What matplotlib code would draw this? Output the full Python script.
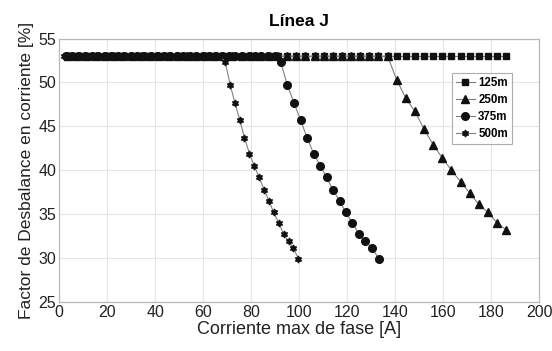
import matplotlib
matplotlib.use("Agg")
import matplotlib.pyplot as plt
from matplotlib import font_manager

names = {f.name for f in font_manager.fontManager.ttflist}
base_font = "Liberation Sans Narrow" if "Liberation Sans Narrow" in names else "Liberation Sans"
plt.rcParams["font.family"] = [base_font, "DejaVu Sans"]

# Current [A] and unbalance factor [%] for each line length
i_125 = [3.8, 7.6, 11.4, 15.2, 19.0, 22.8, 26.6, 30.4, 34.2, 38.0, 41.8, 45.6, 49.4,
         53.2, 57.0, 60.8, 64.6, 68.4, 72.2, 76.0, 79.8, 83.6, 87.4, 91.2, 95.0, 98.8,
         102.6, 106.4, 110.2, 114.0, 117.8, 121.6, 125.4, 129.2, 133.0, 136.8, 140.6,
         144.4, 148.2, 152.0, 155.8, 159.6, 163.4, 167.2, 171.0, 174.8, 178.6, 182.4, 186.2]
f_125 = [53.0] * 49

i_250 = [3.8, 7.6, 11.4, 15.2, 19.0, 22.8, 26.6, 30.4, 34.2, 38.0, 41.8, 45.6, 49.4,
         53.2, 57.0, 60.8, 64.6, 68.4, 72.2, 76.0, 79.8, 83.6, 87.4, 91.2, 95.0, 98.8,
         102.6, 106.4, 110.2, 114.0, 117.8, 121.6, 125.4, 129.2, 133.0, 136.8, 140.6,
         144.4, 148.2, 152.0, 155.8, 159.6, 163.4, 167.2, 171.0, 174.8, 178.6, 182.4, 186.2]
f_250 = [53.0] * 36 + [50.3, 48.2, 46.7, 44.7, 42.9, 41.4, 40.0, 38.7, 37.4, 36.1,
                       35.2, 34.0, 33.2]

i_375 = [2.7, 5.4, 8.2, 10.9, 13.6, 16.3, 19.0, 21.8, 24.5, 27.2, 29.9, 32.6, 35.4,
         38.1, 40.8, 43.5, 46.2, 49.0, 51.7, 54.4, 57.1, 59.8, 62.6, 65.3, 68.0, 70.7,
         73.4, 76.2, 78.9, 81.6, 84.3, 87.0, 89.8, 92.3, 95.1, 97.8, 100.6, 103.3,
         106.0, 108.8, 111.4, 114.0, 116.8, 119.4, 122.2, 124.9, 127.6, 130.4, 133.2]
f_375 = [53.0] * 33 + [52.3, 49.7, 47.7, 45.7, 43.7, 41.9, 40.5, 39.2, 37.8, 36.5,
                       35.2, 34.0, 32.7, 31.9, 31.1, 29.9]

i_500 = [2.0, 4.1, 6.1, 8.1, 10.2, 12.2, 14.2, 16.3, 18.3, 20.4, 22.4, 24.4, 26.5,
         28.5, 30.5, 32.6, 34.6, 36.6, 38.7, 40.7, 42.7, 44.8, 46.8, 48.8, 50.9, 52.9,
         54.9, 57.0, 59.0, 61.1, 63.1, 65.1, 67.2, 69.2, 71.3, 73.2, 75.3, 77.2, 79.3,
         81.3, 83.3, 85.4, 87.4, 89.4, 91.5, 93.6, 95.6, 97.6, 99.7]
f_500 = [53.0] * 33 + [52.3, 49.7, 47.7, 45.7, 43.7, 41.9, 40.5, 39.2, 37.8, 36.5,
                       35.2, 34.0, 32.7, 31.9, 31.1, 29.9]

x_ticks = [0, 20, 40, 60, 80, 100, 120, 140, 160, 180, 200]
y_ticks = [25, 30, 35, 40, 45, 50, 55]

fig = plt.figure(figsize=(5.52, 3.51), dpi=100)
ax = fig.add_axes([0.107, 0.140, 0.870, 0.750])

line_kw = dict(color="#808080", linewidth=0.8, markerfacecolor="#111111",
               markeredgecolor="#111111")
ax.plot(i_125, f_125, marker="s", markersize=4.0, label="125m", **line_kw)
ax.plot(i_250, f_250, marker="^", markersize=5.5, label="250m", **line_kw)
ax.plot(i_375, f_375, marker="o", markersize=5.5, label="375m", **line_kw)
ax.plot(i_500, f_500, marker=(6, 1, 0), markersize=5.0, label="500m", **line_kw)

ax.set_xlim(0, 200)
ax.set_ylim(25, 55)
ax.set_xticks(x_ticks)
ax.set_yticks(y_ticks)
ax.grid(True, color="#e6e6e6", linewidth=0.8)
ax.set_axisbelow(True)
for s in ax.spines.values():
    s.set_color("#b8b8b8")
    s.set_linewidth(0.9)
ax.tick_params(length=0, labelsize=11.5, colors="#222222", pad=2)

ax.set_title("Línea J", fontsize=12.5, fontweight="bold", pad=9,
             family=["Liberation Sans", "DejaVu Sans"])
ax.set_xlabel("Corriente max de fase [A]", fontsize=13, color="#222222", labelpad=1)
ax.set_ylabel("Factor de Desbalance en corriente [%]", fontsize=12.5, color="#222222",
              labelpad=3)

leg = ax.legend(loc="upper right", bbox_to_anchor=(0.943, 0.87),
                prop={"weight": "bold", "size": 8.3, "family": ["Liberation Sans", "DejaVu Sans"]},
                frameon=True, fancybox=False, handlelength=1.6, handletextpad=0.3,
                borderpad=0.35, labelspacing=0.45, borderaxespad=0)
leg.get_frame().set_edgecolor("#999999")
leg.get_frame().set_linewidth(0.8)

fig.savefig("out.png", dpi=100)
